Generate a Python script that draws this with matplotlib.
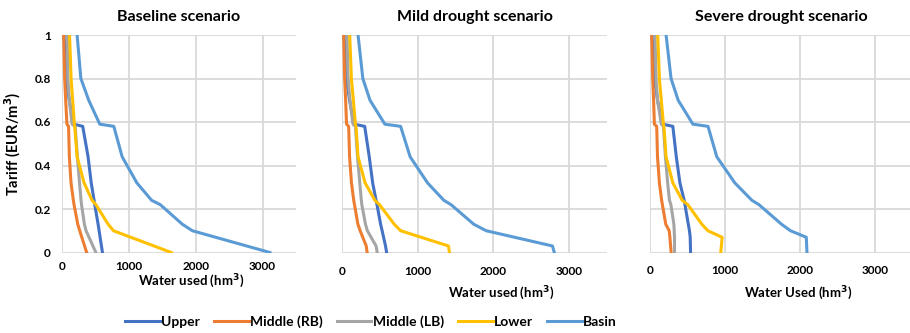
import matplotlib
matplotlib.use("Agg")
import matplotlib.pyplot as plt

plt.rcParams['font.family'] = ['Lato', 'DejaVu Sans']
plt.rcParams['font.weight'] = 'bold'

# tariff levels (EUR/m3)
base_tariff = [1, 0.8, 0.7, 0.59, 0.58, 0.44, 0.32, 0.24, 0.22, 0.13, 0.1, 0]
mild_tariff = [1, 0.8, 0.7, 0.59, 0.58, 0.44, 0.32, 0.24, 0.22, 0.13, 0.1, 0.03, 0]
severe_tariff = [1, 0.8, 0.7, 0.59, 0.58, 0.44, 0.32, 0.24, 0.22, 0.13, 0.1, 0.07, 0]

# water used (hm3)
base_upper = [30, 62, 108, 180, 310, 390, 437, 480, 490, 540, 555, 605]
base_mid_rb = [25, 40, 55, 74, 98, 110, 135, 170, 180, 236, 265, 369]
base_mid_lb = [79, 88, 110, 150, 197, 230, 262, 285, 292, 335, 360, 507]
base_lower = [113, 136, 160, 185, 190, 226, 330, 450, 507, 690, 770, 1635]
base_basin = [226, 282, 400, 565, 775, 900, 1120, 1340, 1470, 1800, 1950, 3110]

mild_upper = [27, 58, 100, 160, 300, 360, 405, 450, 462, 510, 530, 575, 589]
mild_mid_rb = [22, 35, 48, 60, 88, 100, 125, 155, 165, 210, 240, 320, 332]
mild_mid_lb = [66, 80, 105, 145, 177, 205, 235, 255, 262, 310, 335, 450, 465]
mild_lower = [102, 124, 150, 177, 185, 212, 305, 434, 495, 690, 775, 1406, 1419]
mild_basin = [212, 275, 370, 566, 774, 900, 1130, 1345, 1440, 1740, 1905, 2780, 2804]

severe_upper = [27, 60, 100, 170, 304, 350, 398, 455, 465, 510, 525, 535, 540]
severe_mid_rb = [22, 36, 48, 58, 89, 100, 125, 155, 165, 210, 255, 265, 281]
severe_mid_lb = [67, 80, 100, 150, 179, 205, 235, 259, 278, 318, 322, 326, 326]
severe_lower = [103, 125, 150, 179, 185, 214, 304, 429, 504, 690, 770, 960, 942]
severe_basin = [214, 280, 375, 571, 772, 889, 1129, 1356, 1450, 1750, 1870, 2080, 2089]

names = ['Upper', 'Middle (RB)', 'Middle (LB)', 'Lower', 'Basin']
colors = ['#4472C4', '#ED7D31', '#A5A5A5', '#FFC000', '#5B9BD5']
titles = ['Baseline scenario', 'Mild drought scenario', 'Severe drought scenario']
xlabels = ['Water used (hm$^3$)', 'Water used (hm$^3$)', 'Water Used (hm$^3$)']

panels = [
    (base_tariff, [base_upper, base_mid_rb, base_mid_lb, base_lower, base_basin]),
    (mild_tariff, [mild_upper, mild_mid_rb, mild_mid_lb, mild_lower, mild_basin]),
    (severe_tariff, [severe_upper, severe_mid_rb, severe_mid_lb, severe_lower, severe_basin]),
]

fig = plt.figure(figsize=(9.1, 3.33), dpi=100)
W, H = 910.0, 333.0
boxes = [(62, 234), (342, 265), (650, 263)]
top, bottom = 35, 252.5
label_pos = [(0.551, -0.09), (0.60, -0.145), (0.565, -0.145)]
tick_pad = [6, 10, 9]

for i, (tariff, series) in enumerate(panels):
    left, width = boxes[i]
    ax = fig.add_axes([left / W, 1 - bottom / H, width / W, (bottom - top) / H])
    for vals, name, c in zip(series, names, colors):
        ax.plot(vals, tariff, color=c, lw=2.2, label=name, zorder=3)
    ax.set_xlim(0, 3500)
    ax.set_ylim(0, 1)
    ax.set_xticks([0, 1000, 2000, 3000])
    ax.set_yticks([0, 0.2, 0.4, 0.6, 0.8, 1])
    ax.set_yticklabels(['0', '0.2', '0.4', '0.6', '0.8', '1'])
    ax.grid(True, color='#d9d9d9', lw=1.3, zorder=0)
    for s in ax.spines.values():
        s.set_visible(False)
    ax.tick_params(length=0, labelsize=8.5, pad=tick_pad[i])
    ax.tick_params(axis='y', pad=8)
    if i > 0:
        ax.set_yticklabels([])
    ax.set_title(titles[i], fontsize=11.5, fontweight='bold', pad=10)
    ax.set_xlabel(xlabels[i], fontsize=9.5, fontweight='bold')
    ax.xaxis.set_label_coords(*label_pos[i])
    if i == 0:
        ax.set_ylabel('Tariff (EUR/m$^3$)', fontsize=10.5, fontweight='bold')
        ax.yaxis.set_label_coords(-0.167, 0.5)

handles, labels = ax.get_legend_handles_labels()
fig.legend(handles, labels, loc='center', bbox_to_anchor=(371 / W, 1 - 322 / H),
           ncol=5, frameon=False, fontsize=10, handlelength=2.5,
           handletextpad=0.1, columnspacing=1.0)

fig.savefig('out.png', dpi=100)
